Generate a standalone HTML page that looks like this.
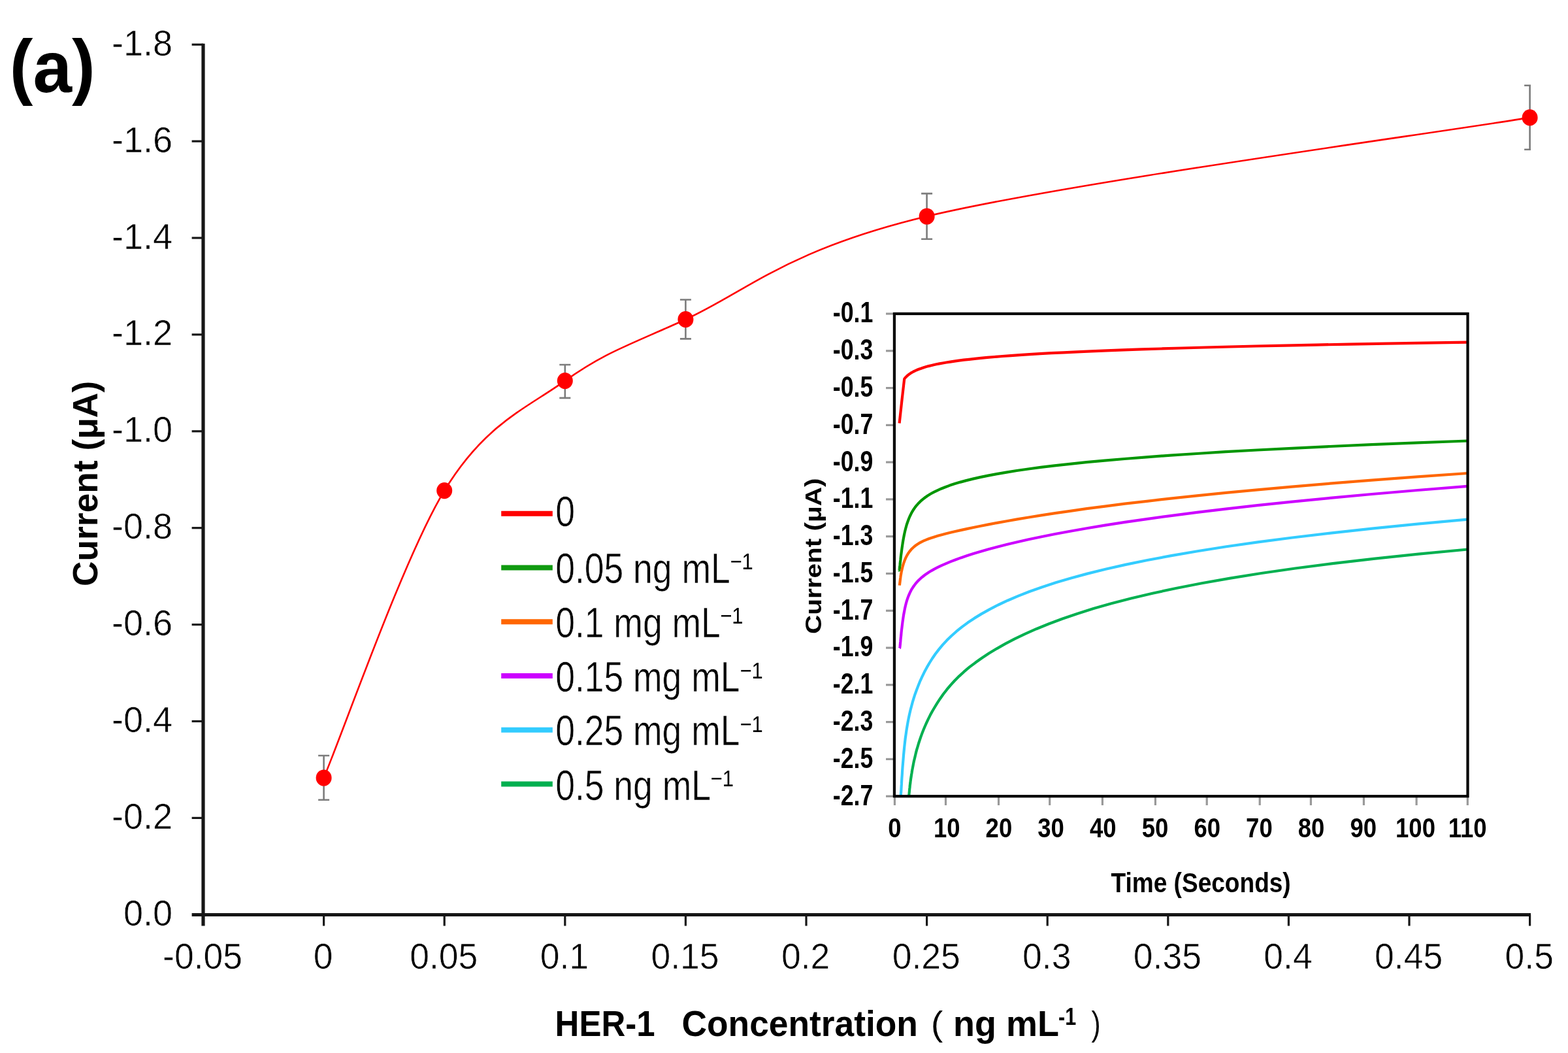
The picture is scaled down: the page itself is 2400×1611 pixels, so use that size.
<!DOCTYPE html>
<html><head><meta charset="utf-8"><title>HER-1 concentration chart</title>
<style>html,body{margin:0;padding:0;background:#fff;width:2400px;height:1611px;overflow:hidden}svg{display:block}</style>
</head><body>
<svg width="2400" height="1611" viewBox="0 0 2400 1611">
<rect width="2400" height="1611" fill="#fff"/>
<text transform="translate(14.70 138.80) scale(0.9580 1.0000)" style="font-family:'Liberation Sans', Arial, sans-serif;font-size:111.8px;font-weight:bold" fill="#000">(<tspan dy="1.8">a</tspan><tspan dy="-1.8">)</tspan></text>
<text transform="translate(264.07 84.71) scale(0.9900 1.0250)" text-anchor="end" style="font-family:'Liberation Sans', Arial, sans-serif;font-size:54.6px" fill="#000" stroke="#fff" stroke-width="0.6">-1.8</text>
<text transform="translate(264.07 232.61) scale(0.9900 1.0250)" text-anchor="end" style="font-family:'Liberation Sans', Arial, sans-serif;font-size:54.6px" fill="#000" stroke="#fff" stroke-width="0.6">-1.6</text>
<text transform="translate(264.07 380.51) scale(0.9900 1.0250)" text-anchor="end" style="font-family:'Liberation Sans', Arial, sans-serif;font-size:54.6px" fill="#000" stroke="#fff" stroke-width="0.6">-1.4</text>
<text transform="translate(264.07 528.41) scale(0.9900 1.0250)" text-anchor="end" style="font-family:'Liberation Sans', Arial, sans-serif;font-size:54.6px" fill="#000" stroke="#fff" stroke-width="0.6">-1.2</text>
<text transform="translate(264.07 676.31) scale(0.9900 1.0250)" text-anchor="end" style="font-family:'Liberation Sans', Arial, sans-serif;font-size:54.6px" fill="#000" stroke="#fff" stroke-width="0.6">-1.0</text>
<text transform="translate(264.07 824.21) scale(0.9900 1.0250)" text-anchor="end" style="font-family:'Liberation Sans', Arial, sans-serif;font-size:54.6px" fill="#000" stroke="#fff" stroke-width="0.6">-0.8</text>
<text transform="translate(264.07 972.11) scale(0.9900 1.0250)" text-anchor="end" style="font-family:'Liberation Sans', Arial, sans-serif;font-size:54.6px" fill="#000" stroke="#fff" stroke-width="0.6">-0.6</text>
<text transform="translate(264.07 1120.01) scale(0.9900 1.0250)" text-anchor="end" style="font-family:'Liberation Sans', Arial, sans-serif;font-size:54.6px" fill="#000" stroke="#fff" stroke-width="0.6">-0.4</text>
<text transform="translate(264.07 1267.91) scale(0.9900 1.0250)" text-anchor="end" style="font-family:'Liberation Sans', Arial, sans-serif;font-size:54.6px" fill="#000" stroke="#fff" stroke-width="0.6">-0.2</text>
<text transform="translate(264.07 1415.81) scale(0.9900 1.0250)" text-anchor="end" style="font-family:'Liberation Sans', Arial, sans-serif;font-size:54.6px" fill="#000" stroke="#fff" stroke-width="0.6">0.0</text>
<text transform="translate(310.10 1481.91) scale(0.9800 1.0200)" text-anchor="middle" style="font-family:'Liberation Sans', Arial, sans-serif;font-size:54.6px" fill="#000" stroke="#fff" stroke-width="0.6">-0.05</text>
<text transform="translate(494.70 1481.91) scale(0.9800 1.0200)" text-anchor="middle" style="font-family:'Liberation Sans', Arial, sans-serif;font-size:54.6px" fill="#000" stroke="#fff" stroke-width="0.6">0</text>
<text transform="translate(679.30 1481.91) scale(0.9800 1.0200)" text-anchor="middle" style="font-family:'Liberation Sans', Arial, sans-serif;font-size:54.6px" fill="#000" stroke="#fff" stroke-width="0.6">0.05</text>
<text transform="translate(863.90 1481.91) scale(0.9800 1.0200)" text-anchor="middle" style="font-family:'Liberation Sans', Arial, sans-serif;font-size:54.6px" fill="#000" stroke="#fff" stroke-width="0.6">0.1</text>
<text transform="translate(1048.50 1481.91) scale(0.9800 1.0200)" text-anchor="middle" style="font-family:'Liberation Sans', Arial, sans-serif;font-size:54.6px" fill="#000" stroke="#fff" stroke-width="0.6">0.15</text>
<text transform="translate(1233.10 1481.91) scale(0.9800 1.0200)" text-anchor="middle" style="font-family:'Liberation Sans', Arial, sans-serif;font-size:54.6px" fill="#000" stroke="#fff" stroke-width="0.6">0.2</text>
<text transform="translate(1417.70 1481.91) scale(0.9800 1.0200)" text-anchor="middle" style="font-family:'Liberation Sans', Arial, sans-serif;font-size:54.6px" fill="#000" stroke="#fff" stroke-width="0.6">0.25</text>
<text transform="translate(1602.30 1481.91) scale(0.9800 1.0200)" text-anchor="middle" style="font-family:'Liberation Sans', Arial, sans-serif;font-size:54.6px" fill="#000" stroke="#fff" stroke-width="0.6">0.3</text>
<text transform="translate(1786.90 1481.91) scale(0.9800 1.0200)" text-anchor="middle" style="font-family:'Liberation Sans', Arial, sans-serif;font-size:54.6px" fill="#000" stroke="#fff" stroke-width="0.6">0.35</text>
<text transform="translate(1971.50 1481.91) scale(0.9800 1.0200)" text-anchor="middle" style="font-family:'Liberation Sans', Arial, sans-serif;font-size:54.6px" fill="#000" stroke="#fff" stroke-width="0.6">0.4</text>
<text transform="translate(2156.10 1481.91) scale(0.9800 1.0200)" text-anchor="middle" style="font-family:'Liberation Sans', Arial, sans-serif;font-size:54.6px" fill="#000" stroke="#fff" stroke-width="0.6">0.45</text>
<text transform="translate(2340.70 1481.91) scale(0.9800 1.0200)" text-anchor="middle" style="font-family:'Liberation Sans', Arial, sans-serif;font-size:54.6px" fill="#000" stroke="#fff" stroke-width="0.6">0.5</text>
<text transform="translate(149.00 897.00) rotate(-90) scale(0.9700 0.9700)" style="font-family:'Liberation Sans', Arial, sans-serif;font-size:55px;font-weight:bold" fill="#000">Current (μA)</text>
<text transform="translate(849.61 1585.20) scale(0.9133 0.9900)" style="font-family:'Liberation Sans', Arial, sans-serif;font-size:55.8px;font-weight:bold" fill="#000">HER-1</text>
<text transform="translate(1043.50 1585.20) scale(0.9559 0.9900)" style="font-family:'Liberation Sans', Arial, sans-serif;font-size:55.8px;font-weight:bold" fill="#000">Concentration</text>
<text transform="translate(1459.10 1585.20) scale(0.9670 0.9900)" style="font-family:'Liberation Sans', Arial, sans-serif;font-size:55.8px;font-weight:bold" fill="#000">ng mL</text>
<text transform="translate(1620.00 1568.40) scale(0.8300 1.0000)" style="font-family:'Liberation Sans', Arial, sans-serif;font-size:36.8px;font-weight:bold" fill="#000">-1</text>
<text transform="translate(1425.00 1584.03) scale(1.0300 0.9900)" style="font-family:'Liberation Sans', Arial, sans-serif;font-size:52.9px" fill="#000">(</text>
<text transform="translate(1670.60 1584.03) scale(0.8000 0.9900)" style="font-family:'Liberation Sans', Arial, sans-serif;font-size:52.9px" fill="#000">)</text>
<text transform="translate(1336.30 493.40) scale(0.8300 1.0200)" text-anchor="end" style="font-family:'Liberation Sans', Arial, sans-serif;font-size:43px;font-weight:bold" fill="#000">-0.1</text>
<text transform="translate(1336.30 550.18) scale(0.8300 1.0200)" text-anchor="end" style="font-family:'Liberation Sans', Arial, sans-serif;font-size:43px;font-weight:bold" fill="#000">-0.3</text>
<text transform="translate(1336.30 606.97) scale(0.8300 1.0200)" text-anchor="end" style="font-family:'Liberation Sans', Arial, sans-serif;font-size:43px;font-weight:bold" fill="#000">-0.5</text>
<text transform="translate(1336.30 663.75) scale(0.8300 1.0200)" text-anchor="end" style="font-family:'Liberation Sans', Arial, sans-serif;font-size:43px;font-weight:bold" fill="#000">-0.7</text>
<text transform="translate(1336.30 720.54) scale(0.8300 1.0200)" text-anchor="end" style="font-family:'Liberation Sans', Arial, sans-serif;font-size:43px;font-weight:bold" fill="#000">-0.9</text>
<text transform="translate(1336.30 777.32) scale(0.8300 1.0200)" text-anchor="end" style="font-family:'Liberation Sans', Arial, sans-serif;font-size:43px;font-weight:bold" fill="#000">-1.1</text>
<text transform="translate(1336.30 834.11) scale(0.8300 1.0200)" text-anchor="end" style="font-family:'Liberation Sans', Arial, sans-serif;font-size:43px;font-weight:bold" fill="#000">-1.3</text>
<text transform="translate(1336.30 890.89) scale(0.8300 1.0200)" text-anchor="end" style="font-family:'Liberation Sans', Arial, sans-serif;font-size:43px;font-weight:bold" fill="#000">-1.5</text>
<text transform="translate(1336.30 947.68) scale(0.8300 1.0200)" text-anchor="end" style="font-family:'Liberation Sans', Arial, sans-serif;font-size:43px;font-weight:bold" fill="#000">-1.7</text>
<text transform="translate(1336.30 1004.46) scale(0.8300 1.0200)" text-anchor="end" style="font-family:'Liberation Sans', Arial, sans-serif;font-size:43px;font-weight:bold" fill="#000">-1.9</text>
<text transform="translate(1336.30 1061.25) scale(0.8300 1.0200)" text-anchor="end" style="font-family:'Liberation Sans', Arial, sans-serif;font-size:43px;font-weight:bold" fill="#000">-2.1</text>
<text transform="translate(1336.30 1118.04) scale(0.8300 1.0200)" text-anchor="end" style="font-family:'Liberation Sans', Arial, sans-serif;font-size:43px;font-weight:bold" fill="#000">-2.3</text>
<text transform="translate(1336.30 1174.82) scale(0.8300 1.0200)" text-anchor="end" style="font-family:'Liberation Sans', Arial, sans-serif;font-size:43px;font-weight:bold" fill="#000">-2.5</text>
<text transform="translate(1336.30 1231.61) scale(0.8300 1.0200)" text-anchor="end" style="font-family:'Liberation Sans', Arial, sans-serif;font-size:43px;font-weight:bold" fill="#000">-2.7</text>
<text transform="translate(1369.50 1280.60) scale(0.8800 1.0200)" text-anchor="middle" style="font-family:'Liberation Sans', Arial, sans-serif;font-size:41.5px;font-weight:bold" fill="#000">0</text>
<text transform="translate(1449.20 1280.60) scale(0.8800 1.0200)" text-anchor="middle" style="font-family:'Liberation Sans', Arial, sans-serif;font-size:41.5px;font-weight:bold" fill="#000">10</text>
<text transform="translate(1528.90 1280.60) scale(0.8800 1.0200)" text-anchor="middle" style="font-family:'Liberation Sans', Arial, sans-serif;font-size:41.5px;font-weight:bold" fill="#000">20</text>
<text transform="translate(1608.60 1280.60) scale(0.8800 1.0200)" text-anchor="middle" style="font-family:'Liberation Sans', Arial, sans-serif;font-size:41.5px;font-weight:bold" fill="#000">30</text>
<text transform="translate(1688.30 1280.60) scale(0.8800 1.0200)" text-anchor="middle" style="font-family:'Liberation Sans', Arial, sans-serif;font-size:41.5px;font-weight:bold" fill="#000">40</text>
<text transform="translate(1768.00 1280.60) scale(0.8800 1.0200)" text-anchor="middle" style="font-family:'Liberation Sans', Arial, sans-serif;font-size:41.5px;font-weight:bold" fill="#000">50</text>
<text transform="translate(1847.70 1280.60) scale(0.8800 1.0200)" text-anchor="middle" style="font-family:'Liberation Sans', Arial, sans-serif;font-size:41.5px;font-weight:bold" fill="#000">60</text>
<text transform="translate(1927.40 1280.60) scale(0.8800 1.0200)" text-anchor="middle" style="font-family:'Liberation Sans', Arial, sans-serif;font-size:41.5px;font-weight:bold" fill="#000">70</text>
<text transform="translate(2007.10 1280.60) scale(0.8800 1.0200)" text-anchor="middle" style="font-family:'Liberation Sans', Arial, sans-serif;font-size:41.5px;font-weight:bold" fill="#000">80</text>
<text transform="translate(2086.80 1280.60) scale(0.8800 1.0200)" text-anchor="middle" style="font-family:'Liberation Sans', Arial, sans-serif;font-size:41.5px;font-weight:bold" fill="#000">90</text>
<text transform="translate(2166.50 1280.60) scale(0.8800 1.0200)" text-anchor="middle" style="font-family:'Liberation Sans', Arial, sans-serif;font-size:41.5px;font-weight:bold" fill="#000">100</text>
<text transform="translate(2246.20 1280.60) scale(0.8800 1.0200)" text-anchor="middle" style="font-family:'Liberation Sans', Arial, sans-serif;font-size:41.5px;font-weight:bold" fill="#000">110</text>
<text transform="translate(1700.50 1365.00) scale(0.8580 1.0000)" style="font-family:'Liberation Sans', Arial, sans-serif;font-size:43.2px;font-weight:bold" fill="#000">Time (Seconds)</text>
<text transform="translate(1256.60 970.00) rotate(-90) scale(1.0130 0.9000)" style="font-family:'Liberation Sans', Arial, sans-serif;font-size:40px;font-weight:bold" fill="#000">Current (μA)</text>
<path d="M767.2 785.8 H845.8" stroke="#ff0000" stroke-width="8"/>
<text transform="translate(850.20 805.46) scale(0.8420 1.0300)" style="font-family:'Liberation Sans', Arial, sans-serif;font-size:63.5px" fill="#000" stroke="#fff" stroke-width="0.6">0</text>
<path d="M767.2 868.5 H845.8" stroke="#109a10" stroke-width="8"/>
<text transform="translate(850.20 891.76) scale(0.8420 1.0300)" style="font-family:'Liberation Sans', Arial, sans-serif;font-size:63.5px" fill="#000" stroke="#fff" stroke-width="0.6">0.05 ng mL</text>
<text transform="translate(1117.40 871.06) scale(0.8900 1.0000)" style="font-family:'Liberation Sans', Arial, sans-serif;font-size:34.8px" fill="#000">−1</text>
<path d="M767.2 951.2 H845.8" stroke="#ff6600" stroke-width="8"/>
<text transform="translate(850.20 974.66) scale(0.8420 1.0300)" style="font-family:'Liberation Sans', Arial, sans-serif;font-size:63.5px" fill="#000" stroke="#fff" stroke-width="0.6">0.1 mg mL</text>
<text transform="translate(1102.20 953.96) scale(0.8900 1.0000)" style="font-family:'Liberation Sans', Arial, sans-serif;font-size:34.8px" fill="#000">−1</text>
<path d="M767.2 1034.0 H845.8" stroke="#cc00ff" stroke-width="8"/>
<text transform="translate(850.20 1058.36) scale(0.8420 1.0300)" style="font-family:'Liberation Sans', Arial, sans-serif;font-size:63.5px" fill="#000" stroke="#fff" stroke-width="0.6">0.15 mg mL</text>
<text transform="translate(1132.40 1037.66) scale(0.8900 1.0000)" style="font-family:'Liberation Sans', Arial, sans-serif;font-size:34.8px" fill="#000">−1</text>
<path d="M767.2 1116.7 H845.8" stroke="#33ccff" stroke-width="8"/>
<text transform="translate(850.20 1140.36) scale(0.8420 1.0300)" style="font-family:'Liberation Sans', Arial, sans-serif;font-size:63.5px" fill="#000" stroke="#fff" stroke-width="0.6">0.25 mg mL</text>
<text transform="translate(1132.40 1119.66) scale(0.8900 1.0000)" style="font-family:'Liberation Sans', Arial, sans-serif;font-size:34.8px" fill="#000">−1</text>
<path d="M767.2 1199.4 H845.8" stroke="#00b050" stroke-width="8"/>
<text transform="translate(850.20 1223.66) scale(0.8420 1.0300)" style="font-family:'Liberation Sans', Arial, sans-serif;font-size:63.5px" fill="#000" stroke="#fff" stroke-width="0.6">0.5 ng mL</text>
<text transform="translate(1087.60 1202.96) scale(0.8900 1.0000)" style="font-family:'Liberation Sans', Arial, sans-serif;font-size:34.8px" fill="#000">−1</text>
<g stroke="#161616" fill="none">
<path d="M311 66.7 V1416.5" stroke-width="5.2"/>
<path d="M293.6 1399.5 H2343" stroke-width="5.2"/>
<path d="M293.6 68.2 H311" stroke-width="3.2"/>
<path d="M293.6 216.1 H311" stroke-width="3.2"/>
<path d="M293.6 364.0 H311" stroke-width="3.2"/>
<path d="M293.6 511.9 H311" stroke-width="3.2"/>
<path d="M293.6 659.8 H311" stroke-width="3.2"/>
<path d="M293.6 807.7 H311" stroke-width="3.2"/>
<path d="M293.6 955.6 H311" stroke-width="3.2"/>
<path d="M293.6 1103.5 H311" stroke-width="3.2"/>
<path d="M293.6 1251.4 H311" stroke-width="3.2"/>
<path d="M495.6 1399.5 V1416.5" stroke-width="3.2"/>
<path d="M680.2 1399.5 V1416.5" stroke-width="3.2"/>
<path d="M864.8 1399.5 V1416.5" stroke-width="3.2"/>
<path d="M1049.4 1399.5 V1416.5" stroke-width="3.2"/>
<path d="M1234.0 1399.5 V1416.5" stroke-width="3.2"/>
<path d="M1418.6 1399.5 V1416.5" stroke-width="3.2"/>
<path d="M1603.2 1399.5 V1416.5" stroke-width="3.2"/>
<path d="M1787.8 1399.5 V1416.5" stroke-width="3.2"/>
<path d="M1972.4 1399.5 V1416.5" stroke-width="3.2"/>
<path d="M2157.0 1399.5 V1416.5" stroke-width="3.2"/>
<path d="M2341.6 1399.5 V1416.5" stroke-width="3.2"/>
</g>
<g stroke="#7c7c7c" stroke-width="2.6" fill="none">
<path d="M495.6 1156 V1223.7 M487.1 1156 H504.1 M487.1 1223.7 H504.1"/>
<path d="M864.8 558 V608.9 M856.3 558 H873.3 M856.3 608.9 H873.3"/>
<path d="M1049.4 458.5 V518.4 M1040.9 458.5 H1057.9 M1040.9 518.4 H1057.9"/>
<path d="M1418.6 296.1 V365.7 M1410.1 296.1 H1427.1 M1410.1 365.7 H1427.1"/>
<path d="M2341.6 130.8 V228.7 M2333.1 130.8 H2343.0 M2333.1 228.7 H2343.0"/>
</g>
<path d="M495.6 1190.0 C526.4 1116.8 618.7 851.8 680.2 750.6 C741.7 649.4 803.3 626.2 864.8 582.6 C926.3 539.0 957.1 530.6 1049.4 488.7 C1141.7 446.8 1203.2 382.5 1418.6 331.0 C1634.0 279.5 2187.8 205.1 2341.6 179.9" stroke="#ff0000" stroke-width="2.6" fill="none"/>
<ellipse cx="495.6" cy="1190.0" rx="12" ry="12.6" fill="#ff0000"/>
<ellipse cx="680.2" cy="750.6" rx="12" ry="12.6" fill="#ff0000"/>
<ellipse cx="864.8" cy="582.6" rx="12" ry="12.6" fill="#ff0000"/>
<ellipse cx="1049.4" cy="488.7" rx="12" ry="12.6" fill="#ff0000"/>
<ellipse cx="1418.6" cy="331.0" rx="12" ry="12.6" fill="#ff0000"/>
<ellipse cx="2341.6" cy="179.9" rx="12" ry="12.6" fill="#ff0000"/>
<g stroke="#999" stroke-width="3.2" fill="none">
<path d="M1356 480.0 H1368.9"/>
<path d="M1356 536.8 H1368.9"/>
<path d="M1356 593.6 H1368.9"/>
<path d="M1356 650.4 H1368.9"/>
<path d="M1356 707.1 H1368.9"/>
<path d="M1356 763.9 H1368.9"/>
<path d="M1356 820.7 H1368.9"/>
<path d="M1356 877.5 H1368.9"/>
<path d="M1356 934.3 H1368.9"/>
<path d="M1356 991.1 H1368.9"/>
<path d="M1356 1047.8 H1368.9"/>
<path d="M1356 1104.6 H1368.9"/>
<path d="M1356 1161.4 H1368.9"/>
<path d="M1356 1218.2 H1368.9"/>
<path d="M1369.4 1218.2 V1232"/>
<path d="M1447.5 1218.2 V1232"/>
<path d="M1528.5 1218.2 V1232"/>
<path d="M1606.7 1218.2 V1232"/>
<path d="M1687.4 1218.2 V1232"/>
<path d="M1768.4 1218.2 V1232"/>
<path d="M1847.2 1218.2 V1232"/>
<path d="M1928.2 1218.2 V1232"/>
<path d="M2006.4 1218.2 V1232"/>
<path d="M2087.4 1218.2 V1232"/>
<path d="M2168.1 1218.2 V1232"/>
<path d="M2246.3 1218.2 V1232"/>
</g>
<defs><clipPath id="ic"><rect x="1368.9" y="480.0" width="877.6" height="738.2"/></clipPath></defs>
<g clip-path="url(#ic)" fill="none" stroke-width="4.2" stroke-linejoin="round">
<path d="M1376.6 647.5 L1380.5 612.0 L1384.2 579.7 L1384.9 578.8 L1385.7 577.8 L1386.6 576.9 L1387.5 576.0 L1388.5 575.0 L1389.6 574.1 L1390.7 573.2 L1392.0 572.3 L1393.3 571.3 L1394.8 570.4 L1396.4 569.5 L1398.1 568.5 L1400.0 567.6 L1402.0 566.7 L1404.1 565.8 L1406.5 564.8 L1409.0 563.9 L1411.7 563.0 L1414.6 562.0 L1417.8 561.1 L1421.3 560.1 L1425.0 559.2 L1429.0 558.3 L1433.3 557.3 L1438.0 556.4 L1443.0 555.5 L1448.5 554.5 L1454.4 553.6 L1460.8 552.6 L1467.7 551.7 L1475.1 550.7 L1483.1 549.8 L1491.8 548.8 L1501.2 547.9 L1511.3 546.9 L1522.3 546.0 L1534.1 545.0 L1546.9 544.1 L1560.7 543.1 L1575.6 542.2 L1591.7 541.2 L1609.2 540.2 L1628.0 539.3 L1648.3 538.3 L1670.3 537.3 L1694.0 536.4 L1719.6 535.4 L1747.3 534.4 L1777.2 533.5 L1809.6 532.5 L1844.5 531.5 L1882.2 530.5 L1923.0 529.5 L1967.0 528.6 L2014.6 527.6 L2066.0 526.6 L2121.6 525.6 L2181.6 524.6 L2246.4 523.6" stroke="#ff0000"/>
<path d="M1376.1 872.2 L1376.2 872.4 L1376.4 872.0 L1376.6 871.3 L1376.8 870.1 L1377.0 868.6 L1377.2 866.7 L1377.5 864.5 L1377.7 862.0 L1378.0 859.3 L1378.4 856.2 L1378.7 853.0 L1379.1 849.5 L1379.6 845.9 L1380.1 842.1 L1380.6 838.2 L1381.2 834.2 L1381.8 830.1 L1382.5 825.9 L1383.3 821.7 L1384.1 817.5 L1385.0 813.4 L1386.0 809.2 L1387.1 805.2 L1388.3 801.2 L1389.7 797.3 L1391.1 793.5 L1392.7 789.7 L1394.5 786.1 L1396.4 782.6 L1398.5 779.2 L1400.8 775.9 L1403.3 772.8 L1406.1 769.7 L1409.1 766.7 L1412.5 763.8 L1416.1 761.0 L1420.1 758.2 L1424.5 755.5 L1429.4 752.9 L1434.7 750.3 L1440.5 747.7 L1446.8 745.2 L1453.8 742.6 L1461.5 740.1 L1469.9 737.6 L1479.1 735.1 L1489.2 732.6 L1500.2 730.1 L1512.4 727.6 L1525.7 725.1 L1540.3 722.6 L1556.3 720.0 L1573.9 717.5 L1593.1 714.9 L1614.2 712.4 L1637.4 709.8 L1662.8 707.2 L1690.6 704.6 L1721.2 702.0 L1754.7 699.3 L1791.4 696.6 L1831.7 694.0 L1875.8 691.2 L1924.3 688.5 L1977.4 685.8 L2035.6 683.0 L2099.5 680.2 L2169.6 677.3 L2246.4 674.5" stroke="#009600"/>
<path d="M1376.9 895.7 L1377.0 894.2 L1377.2 892.7 L1377.4 891.1 L1377.6 889.4 L1377.8 887.7 L1378.0 885.9 L1378.3 884.0 L1378.5 882.1 L1378.8 880.2 L1379.2 878.2 L1379.5 876.1 L1379.9 874.1 L1380.4 872.0 L1380.9 869.8 L1381.4 867.7 L1382.0 865.5 L1382.6 863.4 L1383.3 861.2 L1384.1 859.0 L1384.9 856.8 L1385.8 854.7 L1386.8 852.5 L1387.9 850.4 L1389.1 848.3 L1390.4 846.2 L1391.9 844.1 L1393.5 842.1 L1395.2 840.1 L1397.2 838.2 L1399.3 836.3 L1401.6 834.4 L1404.1 832.7 L1406.9 830.9 L1409.9 829.3 L1413.3 827.7 L1416.9 826.1 L1420.9 824.5 L1425.3 823.0 L1430.1 821.4 L1435.4 819.8 L1441.2 818.2 L1447.6 816.5 L1454.6 814.8 L1462.2 813.0 L1470.6 811.1 L1479.8 809.1 L1489.9 807.0 L1501.0 804.8 L1513.1 802.4 L1526.4 799.9 L1541.0 797.2 L1557.0 794.4 L1574.5 791.5 L1593.8 788.4 L1614.9 785.1 L1638.0 781.8 L1663.4 778.2 L1691.2 774.6 L1721.7 770.7 L1755.2 766.8 L1791.8 762.6 L1832.1 758.3 L1876.2 753.9 L1924.6 749.3 L1977.7 744.6 L2035.9 739.7 L2099.7 734.6 L2169.7 729.4 L2246.4 724.0" stroke="#ff6600"/>
<path d="M1376.9 991.7 L1377.0 991.6 L1377.2 990.9 L1377.4 989.8 L1377.6 988.3 L1377.8 986.4 L1378.0 984.1 L1378.3 981.5 L1378.5 978.6 L1378.8 975.5 L1379.2 972.1 L1379.5 968.4 L1379.9 964.6 L1380.4 960.7 L1380.9 956.6 L1381.4 952.4 L1382.0 948.2 L1382.6 944.0 L1383.3 939.7 L1384.1 935.5 L1384.9 931.3 L1385.8 927.2 L1386.8 923.3 L1387.9 919.4 L1389.1 915.7 L1390.4 912.1 L1391.9 908.6 L1393.5 905.2 L1395.2 901.9 L1397.2 898.8 L1399.3 895.7 L1401.6 892.7 L1404.1 889.8 L1406.9 887.0 L1409.9 884.2 L1413.3 881.5 L1416.9 878.7 L1420.9 876.0 L1425.3 873.3 L1430.1 870.6 L1435.4 867.9 L1441.2 865.1 L1447.6 862.3 L1454.6 859.4 L1462.2 856.5 L1470.6 853.4 L1479.8 850.3 L1489.9 847.1 L1501.0 843.7 L1513.1 840.2 L1526.4 836.7 L1541.0 833.0 L1557.0 829.2 L1574.5 825.2 L1593.8 821.2 L1614.9 817.0 L1638.0 812.7 L1663.4 808.2 L1691.2 803.6 L1721.7 798.9 L1755.2 794.1 L1791.8 789.1 L1832.1 783.9 L1876.2 778.6 L1924.6 773.2 L1977.7 767.6 L2035.9 761.9 L2099.7 756.0 L2169.7 750.0 L2246.4 743.8" stroke="#cc00ff"/>
<path d="M1378.5 1219.1 L1378.6 1218.0 L1378.8 1216.3 L1379.0 1214.0 L1379.2 1211.2 L1379.4 1207.9 L1379.6 1204.1 L1379.9 1199.9 L1380.1 1195.3 L1380.4 1190.3 L1380.8 1185.1 L1381.1 1179.6 L1381.5 1173.8 L1382.0 1167.9 L1382.5 1161.8 L1383.0 1155.6 L1383.6 1149.3 L1384.2 1143.0 L1384.9 1136.7 L1385.6 1130.4 L1386.5 1124.2 L1387.4 1117.9 L1388.4 1111.6 L1389.5 1105.3 L1390.7 1099.1 L1392.0 1092.9 L1393.5 1086.6 L1395.1 1080.4 L1396.8 1074.1 L1398.7 1067.8 L1400.8 1061.4 L1403.2 1054.9 L1405.7 1048.4 L1408.4 1041.8 L1411.5 1035.1 L1414.8 1028.3 L1418.5 1021.4 L1422.5 1014.5 L1426.9 1007.5 L1431.7 1000.5 L1437.0 993.6 L1442.8 986.7 L1449.1 979.8 L1456.1 973.0 L1463.7 966.2 L1472.1 959.4 L1481.3 952.6 L1491.3 945.9 L1502.4 939.1 L1514.5 932.3 L1527.8 925.5 L1542.3 918.7 L1558.3 911.9 L1575.8 905.0 L1595.0 898.2 L1616.1 891.3 L1639.2 884.5 L1664.5 877.6 L1692.3 870.8 L1722.8 863.9 L1756.2 857.0 L1792.8 850.1 L1832.9 843.2 L1877.0 836.3 L1925.3 829.4 L1978.2 822.5 L2036.3 815.6 L2100.0 808.6 L2169.8 801.7 L2246.4 794.7" stroke="#33ccff"/>
<path d="M1391.1 1218.8 L1391.2 1217.2 L1391.4 1215.4 L1391.6 1213.6 L1391.8 1211.6 L1392.0 1209.5 L1392.2 1207.3 L1392.5 1205.0 L1392.7 1202.6 L1393.0 1200.1 L1393.4 1197.4 L1393.7 1194.6 L1394.1 1191.7 L1394.6 1188.7 L1395.0 1185.6 L1395.6 1182.3 L1396.1 1178.9 L1396.8 1175.4 L1397.5 1171.7 L1398.2 1167.9 L1399.0 1164.0 L1400.0 1159.9 L1401.0 1155.7 L1402.0 1151.4 L1403.2 1146.9 L1404.6 1142.3 L1406.0 1137.5 L1407.6 1132.6 L1409.3 1127.6 L1411.2 1122.4 L1413.3 1117.0 L1415.6 1111.5 L1418.1 1105.9 L1420.8 1100.1 L1423.8 1094.1 L1427.1 1088.0 L1430.8 1081.7 L1434.7 1075.3 L1439.1 1068.7 L1443.8 1062.0 L1449.1 1055.2 L1454.8 1048.4 L1461.1 1041.5 L1468.0 1034.6 L1475.5 1027.7 L1483.8 1020.7 L1492.9 1013.8 L1502.8 1006.7 L1513.7 999.5 L1525.7 992.3 L1538.8 984.9 L1553.2 977.4 L1568.9 969.8 L1586.2 962.2 L1605.2 954.5 L1625.9 946.7 L1648.7 938.9 L1673.7 931.1 L1701.1 923.3 L1731.1 915.5 L1764.0 907.7 L1800.0 900.0 L1839.6 892.2 L1883.0 884.6 L1930.5 877.0 L1982.6 869.5 L2039.8 862.1 L2102.4 854.8 L2171.1 847.6 L2246.4 840.5" stroke="#00b050"/>
</g>
<rect x="1368.9" y="480.0" width="877.6" height="738.2" fill="none" stroke="#000" stroke-width="4.2"/>
</svg>
</body></html>
